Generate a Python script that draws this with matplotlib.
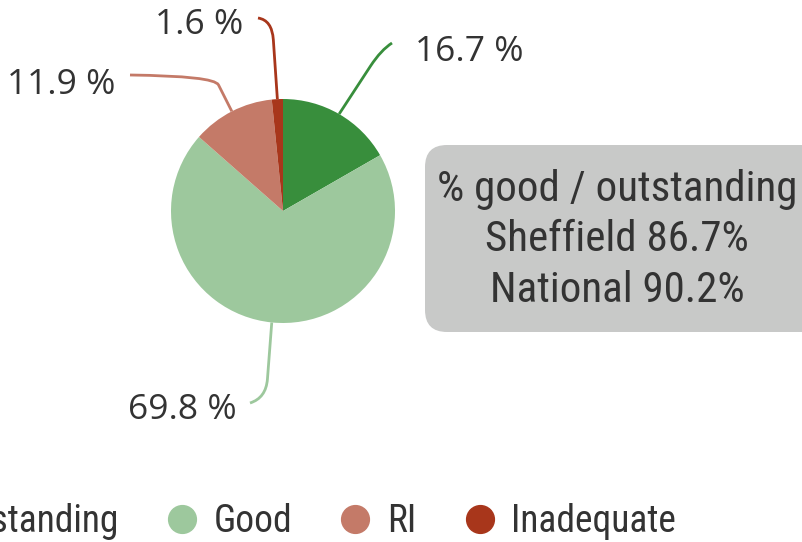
import matplotlib
matplotlib.use("Agg")
import matplotlib.pyplot as plt
import numpy as np
from matplotlib.path import Path
from matplotlib.patches import PathPatch, FancyBboxPatch
from matplotlib.lines import Line2D
from matplotlib import font_manager

# data
categories = ["Outstanding", "Good", "RI", "Inadequate"]
values = [16.7, 69.8, 11.9, 1.6]
colors = ["#388E3C", "#9DC89D", "#C47A68", "#A8361B"]
summary_lines = ["% good / outstanding", "Sheffield 86.7%", "National 90.2%"]

names = {f.name for f in font_manager.fontManager.ttflist}
cond = "Roboto Condensed" if "Roboto Condensed" in names else "Roboto"
label_font = "Open Sans"

W, H = 803, 542
fig = plt.figure(figsize=(W / 100, H / 100), dpi=100)
ax = fig.add_axes([0, 0, 1, 1])


def px(x, y):
    # pixel coords (top-left origin) -> data coords
    return (x, H - y)


cx, cy = px(283, 211)
R = 112
wedges, _ = ax.pie(values, colors=colors, startangle=90, counterclock=False,
                   center=(cx, cy), radius=R, frame=False)
ax.set_xlim(0, W)
ax.set_ylim(0, H)
ax.set_aspect("equal")
ax.axis("off")

# leader lines: elbow and end points per slice (pixel layout)
leaders = [
    ((381, 50), (392, 43), (415, 52), "left"),
    ((266, 398), (250, 403), (237, 410), "right"),
    ((214, 76), (130, 75), (115, 85), "right"),
    ((272, 20), (258, 18), (243, 25), "right"),
]
for w, v, c, (elbow, end, lab, ha) in zip(wedges, values, colors, leaders):
    mid = np.deg2rad((w.theta1 + w.theta2) / 2)
    start = (cx + R * np.cos(mid), cy + R * np.sin(mid))
    ex, ey = px(*elbow)
    nx, ny = px(*end)
    # straight part then curve into the elbow
    t = 0.75
    p1 = (start[0] + t * (ex - start[0]), start[1] + t * (ey - start[1]))
    verts = [start, p1, (ex, ey), (nx, ny)]
    codes = [Path.MOVETO, Path.LINETO, Path.CURVE3, Path.CURVE3]
    ax.add_patch(PathPatch(Path(verts, codes), fill=False, edgecolor=c, lw=2))
    ax.text(*px(*lab), f"{v} %", ha=ha, va="center", fontsize=25.5,
            color="#333333", family=label_font)

# summary box
box = FancyBboxPatch(px(425, 332), 420, 187,
                     boxstyle="round,pad=0,rounding_size=22",
                     facecolor="#C8C9C8", edgecolor="none")
ax.add_patch(box)
for i, line in enumerate(summary_lines):
    ax.text(*px(617, 190 + 50 * i), line, ha="center", va="center",
            fontsize=31, color="#333333", family=cond)

# legend (the chart is cropped on the left, so the first entry is cut)
handles = [Line2D([], [], marker="o", linestyle="none", markersize=20,
                  markerfacecolor=c, markeredgecolor=c) for c in colors]
fig.legend(handles, categories, loc="center", ncol=4, frameon=False,
           bbox_to_anchor=(0.352, 1 - 522 / H),
           prop={"family": cond, "size": 27}, labelcolor="#333333",
           handletextpad=0.35, columnspacing=1.18, handlelength=1.0)

fig.savefig("out.png", dpi=100)
